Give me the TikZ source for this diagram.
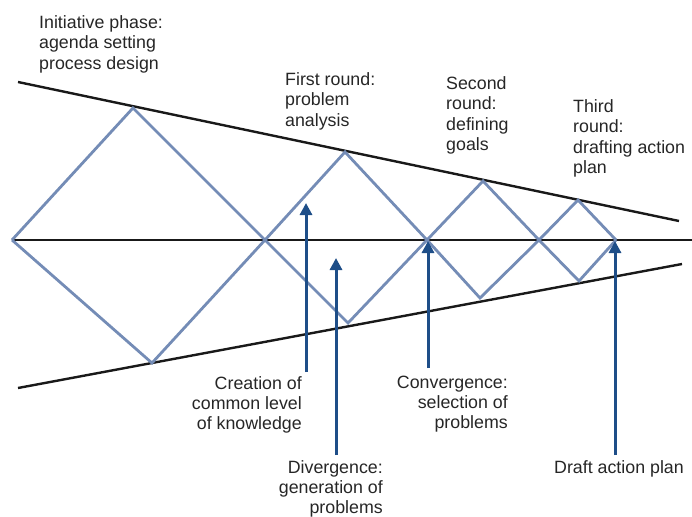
\documentclass[tikz,border=0pt]{standalone}
\usepackage{fontspec}
\setmainfont{Liberation Sans}
\usetikzlibrary{arrows.meta}
\definecolor{diamondblue}{RGB}{116,140,182}
\definecolor{arrowblue}{RGB}{30,78,136}
\tikzset{
  rim/.style={line width=2.4pt, black!90},
  wave/.style={line width=2.8pt, diamondblue},
  pointer/.style={line width=3pt, arrowblue, -{Triangle[length=12pt,width=12pt]}},
  phase/.style={inner sep=0pt, anchor=north west, align=left, font=\fontsize{17.8}{20.5}\selectfont, black!85},
  note/.style={inner sep=0pt, anchor=north east, align=right, font=\fontsize{17.8}{20}\selectfont, black!85},
}
\begin{document}
\begin{tikzpicture}[x=1pt,y=-1pt]
  \useasboundingbox (0,0) rectangle (692,516);
  \path
    (18,82) coordinate (tl)
    (679,221) coordinate (tr)
    (18,388) coordinate (bl)
    (682,264) coordinate (br)
    (692,240) coordinate (mr)
    (12,240) coordinate (s)
    (133,108) coordinate (t1)
    (152,363) coordinate (b1)
    (265,240) coordinate (x1)
    (345,152) coordinate (t2)
    (348,323) coordinate (b2)
    (427,240) coordinate (x2)
    (483,181) coordinate (t3)
    (480,298) coordinate (b3)
    (539,240) coordinate (x3)
    (578,200) coordinate (t4)
    (579,281) coordinate (b4)
    (616,240) coordinate (e);
  \begin{scope}[rim]
    \draw (tl) to (tr);
    \draw (bl) to (br);
    \draw (s) to (mr);
  \end{scope}
  \begin{scope}[wave]
    \draw (s) -- (t1) -- (x1) -- (b2) -- (x2) -- (b3) -- (x3) -- (b4) -- (e);
    \draw (s) -- (b1) -- (x1) -- (t2) -- (x2) -- (t3) -- (x3) -- (t4) -- (e);
  \end{scope}
  \path
    (306,372) coordinate (c1) (306,203) coordinate (k1)
    (336,455) coordinate (c2) (336,258) coordinate (k2)
    (428,368) coordinate (c3) (428,241) coordinate (k3)
    (615,455) coordinate (c4) (615,241) coordinate (k4);
  \begin{scope}[pointer]
    \draw (c1) to (k1);
    \draw (c2) to (k2);
    \draw (c3) to (k3);
    \draw (c4) to (k4);
  \end{scope}
  \node[phase] (init) at (39,15) {Initiative phase:\\agenda setting\\process design};
  \node[phase] (first) at (285,72) {First round:\\problem\\analysis};
  \node[phase] (second) at (446,76) {Second\\round:\\defining\\goals};
  \node[phase] (third) at (573,99) {Third\\round:\\drafting action\\plan};
  \node[note] (creation) at (302,376) {Creation of\\common level\\of knowledge};
  \node[note] (divergence) at (383,460) {Divergence:\\generation of\\problems};
  \node[note] (convergence) at (508,376) {Convergence:\\selection of\\problems};
  \node[note] (draft) at (684,460) {Draft action plan};
\end{tikzpicture}
\end{document}
